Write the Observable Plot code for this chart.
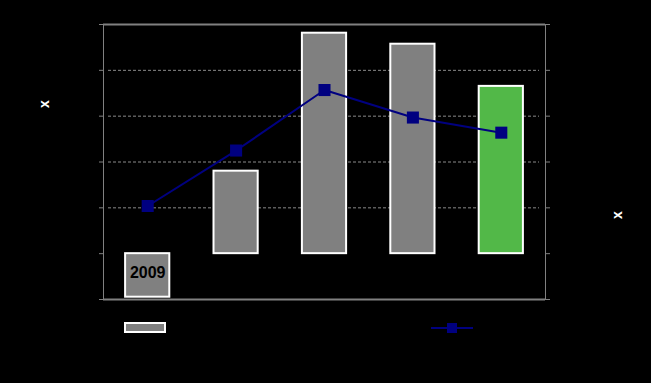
<!DOCTYPE html>
<html>
<head>
<meta charset="utf-8">
<script src="https://cdn.jsdelivr.net/npm/d3@7"></script>
<script src="https://cdn.jsdelivr.net/npm/@observablehq/plot@0.6"></script>
<style>
  body { margin: 0; background: #000; }
  #wrap { position: relative; width: 651px; height: 383px; background: #000; overflow: hidden; }
  .lab { position: absolute; color: #fff; font: bold 14px "Liberation Sans", Arial, sans-serif; transform: translate(-50%, -50%) rotate(-90deg); line-height: 1; }
  .leg { position: absolute; }
</style>
</head>
<body>
<div id="wrap"></div>
<script>
const categories = ["2009", "2010", "2011", "2012", "2013"];
const barValues = [-0.95, 1.80, 4.81, 4.57, 3.65];
const lineValues = [1.04, 2.25, 3.57, 2.97, 2.64];
const yTicks = [-1, 0, 1, 2, 3, 4, 5];
const gridTicks = [1, 2, 3, 4];
const axisLabelLeft = "x";
const axisLabelRight = "x";

const GRAY = "#808080", GREEN = "#52b848", NAVY = "#000080";

const data = categories.map((c, i) => ({cat: c, bar: barValues[i], line: lineValues[i], i}));

const tickMarks = (typeof Plot.axisY === "function") ? [
  Plot.axisY(yTicks, {anchor: "left", tickSize: 4, tickFormat: () => "", stroke: GRAY}),
  Plot.axisY(yTicks, {anchor: "right", tickSize: 4, tickFormat: () => "", stroke: GRAY})
] : [];

const chart = Plot.plot({
  width: 651,
  height: 383,
  marginLeft: 103,
  marginRight: 106,
  marginTop: 24,
  marginBottom: 84,
  style: {background: "black", color: GRAY, overflow: "visible"},
  x: {domain: categories, paddingInner: 0.5, paddingOuter: 0.25, round: false, axis: null},
  y: {domain: [-1, 5], axis: null},
  color: {type: "identity"},
  marks: [
    Plot.ruleY(gridTicks, {stroke: "#8a8a8a", strokeDasharray: "3,2", insetLeft: 5, insetRight: 6}),
    Plot.barY(data, {x: "cat", y: "bar", fill: d => d.i === 4 ? GREEN : GRAY, stroke: "white", strokeWidth: 2}),
    Plot.text(data, {x: "cat", y: 0, text: "cat", dy: 19, fill: "black", fontSize: 16, fontWeight: "bold", fontFamily: "Liberation Sans, Arial, sans-serif"}),
    Plot.line(data, {x: "cat", y: "line", stroke: NAVY, strokeWidth: 2}),
    Plot.dot(data, {x: "cat", y: "line", symbol: "square", r: 6.8, fill: NAVY, stroke: "none"}),
    Plot.frame({stroke: GRAY}),
    Plot.ruleY([-1, 5], {stroke: GRAY, strokeWidth: 2}),
    ...tickMarks
  ]
});

const wrap = document.getElementById("wrap");
chart.style.position = "absolute";
chart.style.left = "0px";
chart.style.top = "0px";
wrap.appendChild(chart);

function addLabel(text, x, y) {
  const d = document.createElement("div");
  d.className = "lab";
  d.textContent = text;
  d.style.left = x + "px";
  d.style.top = y + "px";
  wrap.appendChild(d);
}
addLabel(axisLabelLeft, 44, 104);
addLabel(axisLabelRight, 617, 215);

// legend
const leg1 = document.createElement("div");
leg1.className = "leg";
leg1.style.left = "124px"; leg1.style.top = "320px";
leg1.innerHTML = `<svg width="44" height="12"><rect x="1" y="1" width="40" height="9" fill="${GRAY}" stroke="white" stroke-width="2"/></svg>`;
wrap.appendChild(leg1);
const leg2 = document.createElement("div");
leg2.className = "leg";
leg2.style.left = "431px"; leg2.style.top = "320px";
leg2.innerHTML = `<svg width="44" height="12"><line x1="0" x2="42" y1="6" y2="6" stroke="${NAVY}" stroke-width="2"/><rect x="16" y="1" width="10" height="10" fill="${NAVY}"/></svg>`;
wrap.appendChild(leg2);
</script>
</body>
</html>
